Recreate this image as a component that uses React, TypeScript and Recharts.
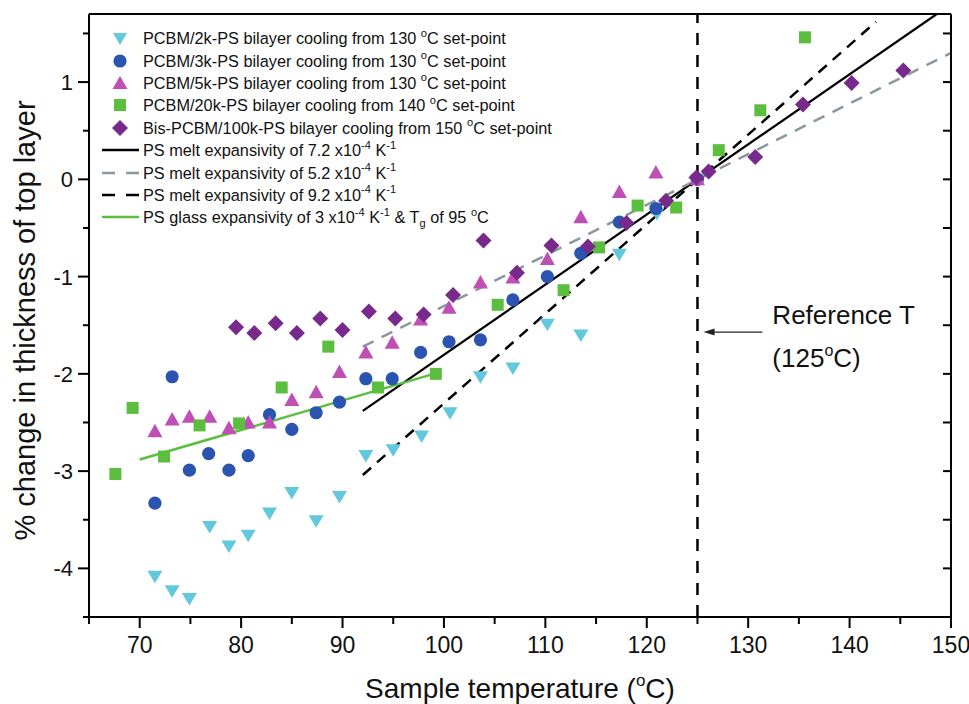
import React from "react";
import { ComposedChart, Scatter, Line, XAxis, YAxis, ReferenceLine, Legend } from "recharts";

// temperature (degC), % change in thickness
const pcbm2k = [
  [71.5, -4.08], [73.2, -4.23], [74.9, -4.31], [76.9, -3.57], [78.8, -3.77], [80.7, -3.66],
  [82.8, -3.43], [85.0, -3.22], [87.4, -3.51], [89.7, -3.26], [92.3, -2.84], [95.0, -2.78],
  [97.8, -2.64], [100.6, -2.4], [103.6, -2.03], [106.8, -1.94], [110.2, -1.49], [113.5, -1.6],
  [117.3, -0.77], [121.0, -0.35], [125.0, 0],
];
const pcbm3k = [
  [71.5, -3.33], [73.2, -2.03], [74.9, -2.99], [76.8, -2.82], [78.8, -2.99], [80.7, -2.84],
  [82.8, -2.42], [85.0, -2.57], [87.4, -2.4], [89.7, -2.29], [92.3, -2.05], [94.9, -2.05],
  [97.7, -1.78], [100.5, -1.67], [103.6, -1.65], [106.8, -1.24], [110.2, -1.0], [113.5, -0.76],
  [117.3, -0.44], [120.9, -0.3], [125.0, 0],
];
const pcbm5k = [
  [71.5, -2.59], [73.2, -2.47], [74.9, -2.44], [76.9, -2.44], [78.8, -2.56], [80.7, -2.5],
  [82.8, -2.5], [85.0, -2.27], [87.4, -2.19], [89.7, -1.98], [92.3, -1.78], [94.9, -1.68],
  [97.7, -1.44], [100.5, -1.32], [103.6, -1.06], [106.8, -1.01], [110.2, -0.82], [113.5, -0.39],
  [117.3, -0.13], [120.9, 0.07], [125.0, 0],
];
const pcbm20k = [
  [67.6, -3.03], [69.3, -2.35], [72.4, -2.85], [75.9, -2.53], [79.8, -2.51], [84.0, -2.14],
  [88.6, -1.72], [93.5, -2.14], [99.2, -2.0], [105.3, -1.29], [111.8, -1.14], [115.3, -0.7],
  [119.1, -0.27], [122.9, -0.29], [127.1, 0.3], [131.2, 0.71], [135.6, 1.46],
];
const bisPcbm100k = [
  [79.5, -1.52], [81.3, -1.58], [83.4, -1.48], [85.5, -1.58], [87.8, -1.43], [90.0, -1.55],
  [92.6, -1.36], [95.2, -1.43], [98.0, -1.39], [100.9, -1.19], [103.9, -0.63], [107.2, -0.96],
  [110.6, -0.68], [114.2, -0.69], [118.0, -0.45], [121.9, -0.22], [124.9, 0.02], [126.1, 0.08],
  [130.7, 0.23], [135.4, 0.77], [140.2, 0.99], [145.3, 1.12],
];

// fitted lines, end points
const melt72 = [[92, -2.38], [148.6, 1.7]];
const melt52 = [[92, -1.72], [150, 1.3]];
const melt92 = [[92, -3.04], [142.6, 1.62]];
const glass3 = [[70, -2.88], [99, -2.0]];

const xTicks = [65, 70, 75, 80, 85, 90, 95, 100, 105, 110, 115, 120, 125, 130, 135, 140, 145, 150];
const yTicks = [-4.5, -4, -3.5, -3, -2.5, -2, -1.5, -1, -0.5, 0, 0.5, 1, 1.5];
const refT = 125;
const arrowSeg = [[131.4, -1.57], [125.6, -1.57]];

const SANS = "'Liberation Sans', Arial, sans-serif";
const NARROW = "'Liberation Sans Narrow', 'Arial Narrow', 'Liberation Sans', sans-serif";

const C = {
  cyan: "#62c8dd",
  blue: "#2b54b0",
  pink: "#bf4fb5",
  green: "#5bbe3f",
  purple: "#782a8c",
  gray: "#8a989d",
};

const pts = (arr: number[][]) => arr.map(([x, y]) => ({ x, y }));

const downTri = (p: any) => (
  <path d={`M${p.cx - 7.5},${p.cy - 5.5}L${p.cx + 7.5},${p.cy - 5.5}L${p.cx},${p.cy + 7}Z`} fill={C.cyan} />
);
const dot = (p: any) => <circle cx={p.cx} cy={p.cy} r={6.6} fill={C.blue} />;
const upTri = (p: any) => (
  <path d={`M${p.cx - 7.5},${p.cy + 6}L${p.cx + 7.5},${p.cy + 6}L${p.cx},${p.cy - 7.5}Z`} fill={C.pink} />
);
const square = (p: any) => <rect x={p.cx - 6} y={p.cy - 6} width={12} height={12} fill={C.green} />;
const diamond = (p: any) => (
  <path d={`M${p.cx},${p.cy - 8}L${p.cx + 8},${p.cy}L${p.cx},${p.cy + 8}L${p.cx - 8},${p.cy}Z`} fill={C.purple} />
);

const BottomTick = (p: any) => {
  const v = p.payload.value;
  const major = v % 10 === 0;
  return (
    <g>
      <line x1={p.x} x2={p.x} y1={p.y} y2={p.y + (major ? 11 : 7)} stroke="#000" strokeWidth={2} />
      {major && (
        <text x={p.x} y={p.y + 36} textAnchor="middle" fontSize={23} fontFamily={NARROW} fill="#111">
          {v}
        </text>
      )}
    </g>
  );
};

const TopTick = (p: any) => (
  <line x1={p.x} x2={p.x} y1={p.y} y2={p.y + 8} stroke="#000" strokeWidth={2} />
);

const LeftTick = (p: any) => {
  const v = p.payload.value;
  const major = Number.isInteger(v);
  return (
    <g>
      <line x1={p.x - (major ? 11 : 6)} x2={p.x} y1={p.y} y2={p.y} stroke="#000" strokeWidth={2} />
      {major && (
        <text x={p.x - 16} y={p.y + 8} textAnchor="end" fontSize={22} fontFamily={SANS} fill="#111">
          {v}
        </text>
      )}
    </g>
  );
};

const RightTick = (p: any) => (
  <line x1={p.x - 8} x2={p.x} y1={p.y} y2={p.y} stroke="#000" strokeWidth={2} />
);

const Arrow = (p: any) => {
  const { x1, y1, x2, y2 } = p;
  return (
    <g>
      <line x1={x1} y1={y1} x2={x2 + 8} y2={y2} stroke="#222" strokeWidth={1.3} />
      <path d={`M${x2},${y2}L${x2 + 11},${y2 - 3.5}L${x2 + 11},${y2 + 3.5}Z`} fill="#222" />
      <text x={x1 + 10} y={y1 - 8} fontSize={26} fontFamily={SANS} fill="#111">
        Reference T
      </text>
      <text x={x1 + 10} y={y1 + 35} fontSize={26} fontFamily={SANS} fill="#111">
        (125<tspan fontSize={16} dy={-11}>o</tspan>
        <tspan dy={11}>C)</tspan>
      </text>
    </g>
  );
};

const sup = (s: string) => (
  <sup style={{ fontSize: "0.68em", lineHeight: 0, position: "relative", top: "-0.1em" }}>{s}</sup>
);

const legendRows: { sym: React.ReactNode; label: React.ReactNode }[] = [
  { sym: <path d="M13,6L27,6L20,18Z" fill={C.cyan} />, label: <>PCBM/2k-PS bilayer cooling from 130 {sup("o")}C set-point</> },
  { sym: <circle cx={20} cy={11} r={6.6} fill={C.blue} />, label: <>PCBM/3k-PS bilayer cooling from 130 {sup("o")}C set-point</> },
  { sym: <path d="M12.5,17L27.5,17L20,4Z" fill={C.pink} />, label: <>PCBM/5k-PS bilayer cooling from 130 {sup("o")}C set-point</> },
  { sym: <rect x={14} y={5} width={12} height={12} fill={C.green} />, label: <>PCBM/20k-PS bilayer cooling from 140 {sup("o")}C set-point</> },
  { sym: <path d="M20,3L28,11L20,19L12,11Z" fill={C.purple} />, label: <>Bis-PCBM/100k-PS bilayer cooling from 150 {sup("o")}C set-point</> },
  { sym: <line x1={2} x2={39} y1={11} y2={11} stroke="#000" strokeWidth={2.5} />, label: <>PS melt expansivity of 7.2 x10{sup("-4")} K{sup("-1")}</> },
  { sym: <line x1={2} x2={39} y1={11} y2={11} stroke={C.gray} strokeWidth={2.5} strokeDasharray="13 11" />, label: <>PS melt expansivity of 5.2 x10{sup("-4")} K{sup("-1")}</> },
  { sym: <line x1={2} x2={39} y1={11} y2={11} stroke="#000" strokeWidth={2.5} strokeDasharray="13 11" />, label: <>PS melt expansivity of 9.2 x10{sup("-4")} K{sup("-1")}</> },
  {
    sym: <line x1={2} x2={39} y1={11} y2={11} stroke={C.green} strokeWidth={2.5} />,
    label: (
      <>
        PS glass expansivity of 3 x10{sup("-4")} K{sup("-1")} &amp; T
        <sub style={{ fontSize: "0.68em", lineHeight: 0 }}>g</sub> of 95 {sup("o")}C
      </>
    ),
  },
];

const renderLegend = () => (
  <div style={{ fontFamily: SANS, fontSize: 16.3, color: "#111" }}>
    {legendRows.map((r, i) => (
      <div key={i} style={{ display: "flex", alignItems: "center", height: 22.4, whiteSpace: "nowrap" }}>
        <svg width={40} height={22} style={{ marginRight: 3, flex: "none" }}>
          {r.sym}
        </svg>
        <span style={{ lineHeight: "22px" }}>{r.label}</span>
      </div>
    ))}
  </div>
);

export default function App() {
  return (
    <div style={{ position: "absolute", left: 0, top: 0, width: 969, height: 704, background: "#fff" }}>
      <ComposedChart width={969} height={704} margin={{ top: 13, right: 17, bottom: 0, left: 0 }}>
        <XAxis
          xAxisId="b"
          dataKey="x"
          type="number"
          domain={[65, 150]}
          allowDataOverflow
          ticks={xTicks}
          interval={0}
          height={87}
          tickSize={0}
          tickMargin={0}
          tickLine={false}
          tick={BottomTick}
          axisLine={{ stroke: "#000", strokeWidth: 2 }}
          label={{
            content: (props: any) => {
              const vb = props.viewBox;
              return (
                <text x={vb.x + vb.width / 2} y={698} textAnchor="middle" fontSize={28} fontFamily={SANS} fill="#111">
                  Sample temperature (<tspan fontSize={17} dy={-12}>o</tspan>
                  <tspan dy={12}>C)</tspan>
                </text>
              );
            },
          }}
        />
        <XAxis
          xAxisId="t"
          orientation="top"
          type="number"
          domain={[65, 150]}
          allowDataOverflow
          ticks={xTicks.slice(1, -1)}
          interval={0}
          height={1}
          tickSize={0}
          tickMargin={0}
          tickLine={false}
          tick={TopTick}
          axisLine={{ stroke: "#000", strokeWidth: 2 }}
        />
        <YAxis
          yAxisId="l"
          dataKey="y"
          type="number"
          domain={[-4.5, 1.7]}
          allowDataOverflow
          ticks={yTicks}
          interval={0}
          width={89}
          tickSize={0}
          tickMargin={0}
          tickLine={false}
          tick={LeftTick}
          axisLine={{ stroke: "#000", strokeWidth: 2 }}
          label={{
            content: (props: any) => {
              const vb = props.viewBox;
              const cy = vb.y + vb.height / 2 + 5;
              return (
                <text
                  x={25}
                  y={cy}
                  transform={`rotate(-90, 25, ${cy})`}
                  textAnchor="middle"
                  dominantBaseline="central"
                  fontSize={29}
                  fontFamily={SANS}
                  fill="#111"
                >
                  % change in thickness of top layer
                </text>
              );
            },
          }}
        />
        <YAxis
          yAxisId="r"
          orientation="right"
          type="number"
          domain={[-4.5, 1.7]}
          allowDataOverflow
          ticks={yTicks.slice(1)}
          interval={0}
          width={1}
          tickSize={0}
          tickMargin={0}
          tickLine={false}
          tick={RightTick}
          axisLine={{ stroke: "#000", strokeWidth: 2 }}
        />

        <ReferenceLine xAxisId="b" yAxisId="l" x={refT} stroke="#000" strokeWidth={2.5} strokeDasharray="12 10" />
        <ReferenceLine
          xAxisId="b"
          yAxisId="l"
          segment={arrowSeg.map(([x, y]) => ({ x, y }))}
          shape={Arrow}
        />

        <Scatter name="2k" data={pts(pcbm2k)} xAxisId="b" yAxisId="l" shape={downTri} fill={C.cyan} isAnimationActive={false} />
        <Scatter name="3k" data={pts(pcbm3k)} xAxisId="b" yAxisId="l" shape={dot} fill={C.blue} isAnimationActive={false} />
        <Scatter name="5k" data={pts(pcbm5k)} xAxisId="b" yAxisId="l" shape={upTri} fill={C.pink} isAnimationActive={false} />
        <Scatter name="20k" data={pts(pcbm20k)} xAxisId="b" yAxisId="l" shape={square} fill={C.green} isAnimationActive={false} />
        <Scatter name="100k" data={pts(bisPcbm100k)} xAxisId="b" yAxisId="l" shape={diamond} fill={C.purple} isAnimationActive={false} />

        <Line data={pts(melt72)} dataKey="y" xAxisId="b" yAxisId="l" type="linear" stroke="#000" strokeWidth={2.2} dot={false} isAnimationActive={false} />
        <Line data={pts(melt52)} dataKey="y" xAxisId="b" yAxisId="l" type="linear" stroke={C.gray} strokeWidth={2.5} strokeDasharray="12 9" dot={false} isAnimationActive={false} />
        <Line data={pts(melt92)} dataKey="y" xAxisId="b" yAxisId="l" type="linear" stroke="#000" strokeWidth={2.5} strokeDasharray="11 8" dot={false} isAnimationActive={false} />
        <Line data={pts(glass3)} dataKey="y" xAxisId="b" yAxisId="l" type="linear" stroke={C.green} strokeWidth={2.5} dot={false} isAnimationActive={false} />

        <Legend
          layout="vertical"
          align="center"
          verticalAlign="middle"
          content={renderLegend}
          wrapperStyle={{ left: 100, top: 27, width: "auto", height: "auto" }}
        />
      </ComposedChart>
    </div>
  );
}
